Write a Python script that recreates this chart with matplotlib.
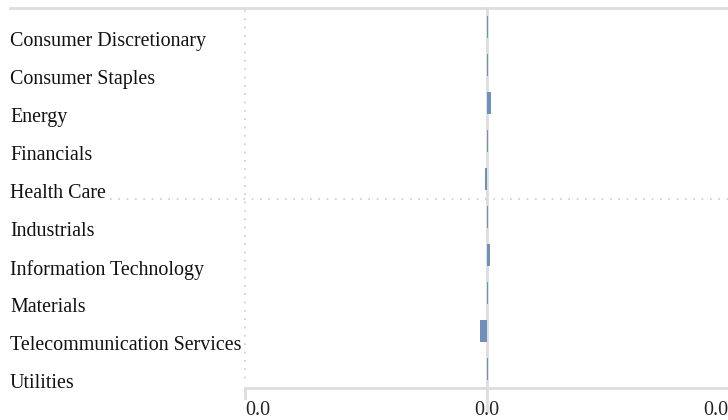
import matplotlib.pyplot as plt
from matplotlib.lines import Line2D
import matplotlib.transforms as mtransforms

sectors = ['Consumer Discretionary', 'Consumer Staples', 'Energy', 'Financials',
           'Health Care', 'Industrials', 'Information Technology', 'Materials',
           'Telecommunication Services', 'Utilities']
values = [0.00017, 0.00017, 0.00068, 0.00017, -0.00025, 0.00017, 0.0005, 0.00017,
          -0.0011, 0.00017]
tick_vals = [-0.04, 0.0, 0.04]
tick_labels = ['0.0', '0.0', '0.0']

plt.rcParams['font.family'] = ['Liberation Serif', 'DejaVu Serif']

W, H = 728, 420
fig = plt.figure(figsize=(W / 100, H / 100), dpi=100)
ax = fig.add_axes([245 / W, 1 - 388 / H, (W - 245) / W, 380 / H])

grey = '#dddddd'
ax.axvline(0, color=grey, lw=2, zorder=1, ymin=-0.06, clip_on=False)
ax.barh(range(len(sectors)), values, height=0.6, color='#7090bc', zorder=2)

ax.set_ylim(len(sectors) - 0.5, -0.5)
ax.set_xlim(tick_vals[0], tick_vals[-1])
ax.set_yticks([])
ax.set_xticks([])
for s in ['top', 'right', 'left']:
    ax.spines[s].set_visible(False)
ax.spines['bottom'].set_color(grey)
ax.spines['bottom'].set_linewidth(2)

# tick labels
aligns = ['left', 'center', 'right']
for v, lab, ha in zip(tick_vals, tick_labels, aligns):
    ax.text(v, -0.058, lab, transform=ax.get_xaxis_transform(), ha=ha, va='center',
            fontsize=14.4, color='#222222')
# left tick
fig.add_artist(Line2D([245 / W, 245 / W], [1 - 388 / H, 1 - 398 / H], color=grey, lw=2))

# top line
fig.add_artist(Line2D([10 / W, 1], [1 - 8 / H, 1 - 8 / H], color=grey, lw=2))
# dotted guides
fig.add_artist(Line2D([245 / W, 245 / W], [1 - 10 / H, 1 - 382 / H], color='#cccccc',
                      lw=1.2, linestyle=(0, (1, 4))))
fig.add_artist(Line2D([110 / W, 1], [1 - 199 / H, 1 - 199 / H], color='#cccccc',
                      lw=1.2, linestyle=(0, (1, 4))))

# category labels
trans = mtransforms.blended_transform_factory(fig.transFigure, ax.transData)
for i, s in enumerate(sectors):
    ax.text(10 / W, i + 0.39, s, transform=trans, ha='left', va='center',
            fontsize=14.4, color='#111111')

fig.savefig('out.png', dpi=100)
